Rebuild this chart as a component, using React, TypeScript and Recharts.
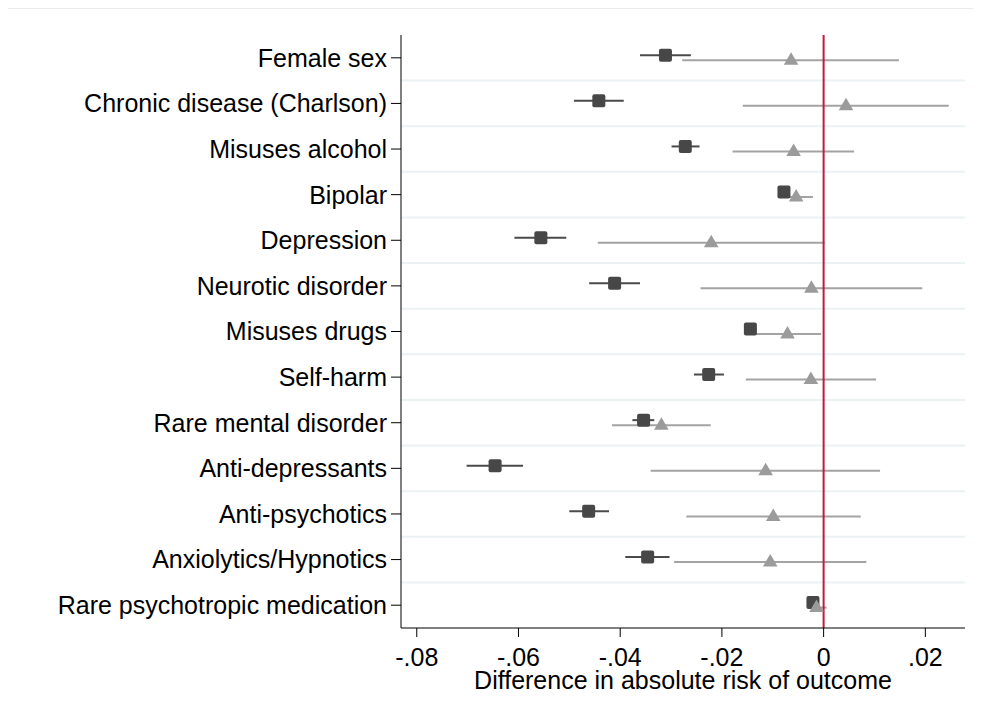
import React from 'react';
import { ScatterChart, Scatter, XAxis, YAxis, ErrorBar, ReferenceLine } from 'recharts';

const categories = [
  'Female sex',
  'Chronic disease (Charlson)',
  'Misuses alcohol',
  'Bipolar',
  'Depression',
  'Neurotic disorder',
  'Misuses drugs',
  'Self-harm',
  'Rare mental disorder',
  'Anti-depressants',
  'Anti-psychotics',
  'Anxiolytics/Hypnotics',
  'Rare psychotropic medication',
];

const darkEst = [-0.0311, -0.0442, -0.0272, -0.0078, -0.0556, -0.0411, -0.0144, -0.0226, -0.0354, -0.0646, -0.0462, -0.0346, -0.0021];
const darkLo = [-0.0361, -0.0491, -0.0299, -0.0086, -0.0608, -0.0461, -0.0156, -0.0255, -0.0376, -0.0702, -0.0500, -0.0390, -0.0029];
const darkHi = [-0.0261, -0.0393, -0.0244, -0.0070, -0.0506, -0.0361, -0.0132, -0.0196, -0.0333, -0.0591, -0.0422, -0.0303, -0.0013];

const greyEst = [-0.0064, 0.0044, -0.0059, -0.0054, -0.0221, -0.0024, -0.0071, -0.0025, -0.0319, -0.0114, -0.0099, -0.0105, -0.0014];
const greyLo = [-0.0278, -0.0159, -0.0179, -0.0087, -0.0444, -0.0242, -0.0137, -0.0153, -0.0416, -0.0340, -0.0270, -0.0294, -0.0026];
const greyHi = [0.0148, 0.0246, 0.0060, -0.0021, 0.0002, 0.0194, -0.0005, 0.0103, -0.0222, 0.0111, 0.0073, 0.0084, 0.0006];

const xTicks = [-0.08, -0.06, -0.04, -0.02, 0, 0.02];
const xTickLabels = ['-.08', '-.06', '-.04', '-.02', '0', '.02'];

const darkData = categories.map((c, i) => ({
  name: c,
  x: darkEst[i],
  y: i - 0.057,
  err: [darkEst[i] - darkLo[i], darkHi[i] - darkEst[i]],
}));

const greyData = categories.map((c, i) => ({
  name: c,
  x: greyEst[i],
  y: i + 0.053,
  err: [greyEst[i] - greyLo[i], greyHi[i] - greyEst[i]],
}));

const gridYs = categories.slice(1).map((_, i) => i + 0.5);
const yTicks = categories.map((_, i) => i);

const FONT = '"Liberation Sans", Arial, Helvetica, sans-serif';

const Square = (props: any) => {
  const { cx, cy } = props;
  if (cx == null || cy == null) return null;
  return <rect x={cx - 6.5} y={cy - 6.5} width={13} height={13} rx={2} ry={2} fill="#474747" />;
};

const Triangle = (props: any) => {
  const { cx, cy } = props;
  if (cx == null || cy == null) return null;
  return <path d={`M${cx - 7.3},${cy + 4.5} L${cx + 7.3},${cy + 4.5} L${cx},${cy - 8} Z`} fill="#9b9b9b" />;
};

const YTick = (props: any) => {
  const { x, y, payload } = props;
  const label = categories[payload.value] ?? '';
  return (
    <text x={x} y={y} dy="0.355em" textAnchor="end" fontSize={25} fill="#000" fontFamily={FONT}>
      {label}
    </text>
  );
};

export default function App() {
  return (
    <div style={{ width: 973, height: 712, borderTop: '1px solid #ececec', fontFamily: FONT }}>
      <ScatterChart width={973} height={711} margin={{ top: 26, right: 16, left: 0, bottom: 28 }}>
        {gridYs.map((g) => (
          <ReferenceLine key={'g' + g} y={g} stroke="#eaf2f3" strokeWidth={2} />
        ))}
        <XAxis
          type="number"
          dataKey="x"
          domain={[-0.0831, 0.0278]}
          allowDataOverflow
          ticks={xTicks}
          tickFormatter={(v: number) => xTickLabels[xTicks.indexOf(v)] ?? String(v)}
          tick={{ fontSize: 25, fill: '#000', fontFamily: FONT }}
          tickSize={9}
          tickMargin={11}
          stroke="#000"
          height={64}
          label={{ value: 'Difference in absolute risk of outcome', position: 'insideBottom', offset: 3, fontSize: 25, fill: '#000', fontFamily: FONT }}
        />
        <YAxis
          type="number"
          dataKey="y"
          domain={[-0.5, 12.5]}
          reversed
          allowDataOverflow
          ticks={yTicks}
          interval={0}
          tick={<YTick />}
          tickSize={10}
          tickMargin={4}
          stroke="#000"
          width={393}
        />
        <Scatter data={darkData} shape={Square} isAnimationActive={false}>
          <ErrorBar dataKey="err" direction="x" width={0} stroke="#4a4a4a" strokeWidth={2} isAnimationActive={false} />
        </Scatter>
        <Scatter data={greyData} shape={Triangle} isAnimationActive={false}>
          <ErrorBar dataKey="err" direction="x" width={0} stroke="#a3a3a3" strokeWidth={2} isAnimationActive={false} />
        </Scatter>
        <ReferenceLine x={0} stroke="#c8173c" strokeWidth={2} />
      </ScatterChart>
    </div>
  );
}
